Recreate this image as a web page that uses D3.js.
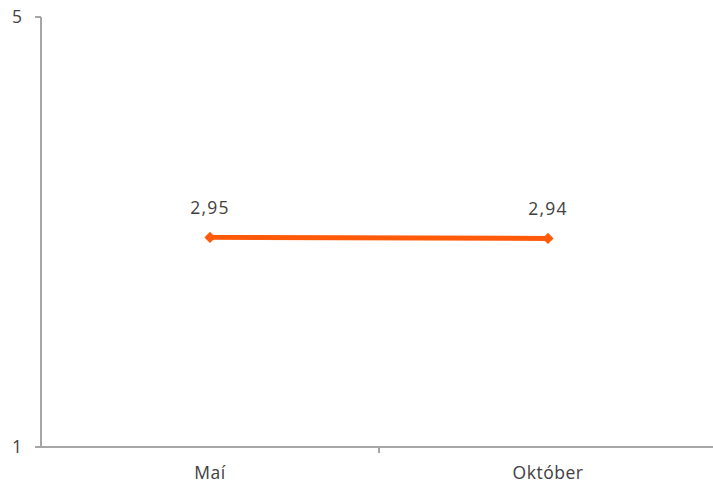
<!DOCTYPE html>
<html><head><meta charset="utf-8">
<script src="https://cdn.jsdelivr.net/npm/d3@7"></script>
<style>body{margin:0;background:#fff}svg{display:block}text{font-family:"Open Sans",sans-serif;fill:#404040}</style>
</head><body>
<script>
const categories = ["Maí", "Október"];
const values = [2.95, 2.94];
const labels = ["2,95", "2,94"];
const yTicks = [1, 5];

(function () {
const W = 713, H = 484;
const svg = d3.select("body").append("svg").attr("width", W).attr("height", H);
const mLeft = 41, mRight = 717, mTop = 17, mBottom = 447;
const x = d3.scaleBand().domain(categories).range([mLeft, mRight]).padding(0);
const y = d3.scaleLinear().domain([1, 5]).range([mBottom, mTop]);
const axisColor = "#a6a6a6";

// y axis
svg.append("line").attr("x1", mLeft).attr("x2", mLeft).attr("y1", mTop).attr("y2", mBottom)
  .attr("stroke", axisColor).attr("stroke-width", 2);
yTicks.forEach(t => {
  svg.append("line").attr("x1", mLeft - 6).attr("x2", mLeft).attr("y1", y(t)).attr("y2", y(t))
    .attr("stroke", axisColor).attr("stroke-width", 2);
  svg.append("text").attr("x", 22).attr("y", y(t)).attr("dy", "0.36em").attr("text-anchor", "end")
    .attr("font-size", 17.5).text(t);
});
// x axis
svg.append("line").attr("x1", mLeft - 6).attr("x2", mRight).attr("y1", mBottom).attr("y2", mBottom)
  .attr("stroke", axisColor).attr("stroke-width", 2);
categories.forEach((c, i) => {
  if (i > 0) svg.append("line").attr("x1", x(c)).attr("x2", x(c)).attr("y1", mBottom).attr("y2", mBottom + 6)
    .attr("stroke", axisColor).attr("stroke-width", 2);
  svg.append("text").attr("x", x(c) + x.bandwidth() / 2).attr("y", 479).attr("text-anchor", "middle")
    .attr("font-size", 17.5).attr("letter-spacing", 0.5).text(c);
});

const cx = c => x(c) + x.bandwidth() / 2;
const line = d3.line().x((d, i) => cx(categories[i])).y(d => y(d));
svg.append("path").datum(values).attr("d", line).attr("fill", "none")
  .attr("stroke", "#FF5A0A").attr("stroke-width", 5);
svg.selectAll(".m").data(values).enter().append("path")
  .attr("d", d3.symbol(d3.symbolDiamond2, 80))
  .attr("transform", (d, i) => `translate(${cx(categories[i])},${y(d)})`)
  .attr("fill", "#FF5A0A");
svg.selectAll(".lbl").data(values).enter().append("text")
  .attr("x", (d, i) => cx(categories[i])).attr("y", d => y(d) - 23)
  .attr("text-anchor", "middle").attr("font-size", 17.5).attr("letter-spacing", 1.2)
  .text((d, i) => labels[i]);
})();
</script>
</body></html>
